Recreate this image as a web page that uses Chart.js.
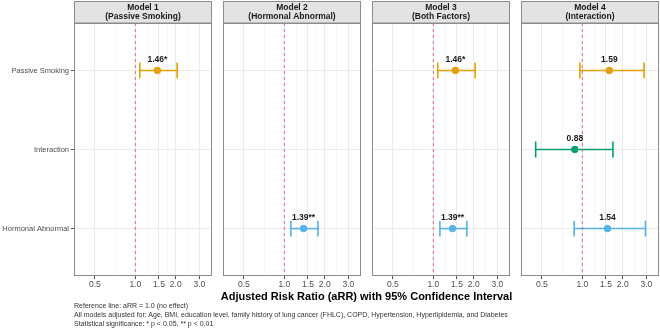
<!DOCTYPE html>
<html>
<head>
<meta charset="utf-8">
<script src="https://cdn.jsdelivr.net/npm/chart.js@4/dist/chart.umd.min.js"></script>
<style>
  body { margin: 0; background: #fff; font-family: "Liberation Sans", Arial, sans-serif; }
  #wrap { position: relative; width: 660px; height: 332px; overflow: hidden; }
  canvas { position: absolute; top: 0; }
  .xtitle { position: absolute; top: 290px; left: 74px; width: 585px; text-align: center;
            font-weight: bold; font-size: 11px; color: #000; }
  .caption { position: absolute; top: 301px; left: 74px; font-size: 7px; line-height: 9px; color: #333; }
</style>
</head>
<body>
<div id="wrap">
  <canvas id="p0" width="212" height="292" style="left:0px"></canvas>
  <canvas id="p1" width="138" height="292" style="left:223px"></canvas>
  <canvas id="p2" width="138" height="292" style="left:372px"></canvas>
  <canvas id="p3" width="138" height="292" style="left:521px"></canvas>
  <div class="xtitle">Adjusted Risk Ratio (aRR) with 95% Confidence Interval</div>
  <div class="caption">Reference line: aRR = 1.0 (no effect)<br>All models adjusted for: Age, BMI, education level, family history of lung cancer (FHLC), COPD, Hypertension, Hyperlipidemia, and Diabetes<br>Statistical significance: * p &lt; 0.05, ** p &lt; 0.01</div>
</div>
<script>
// data
const panelTitles = ['Model 1', 'Model 2', 'Model 3', 'Model 4'];
const panelSubtitles = ['(Passive Smoking)', '(Hormonal Abnormal)', '(Both Factors)', '(Interaction)'];
const categories = ['Passive Smoking', 'Interaction', 'Hormonal Abnormal'];
const catColors = ['#E69F00', '#009E73', '#56B4E9'];

// rows: model, columns: category (null = not in model)
const estimates = [[1.46, null, null], [null, null, 1.39], [1.46, null, 1.39], [1.59, 0.88, 1.54]];
const lowerCI   = [[1.08, null, null], [null, null, 1.12], [1.08, null, 1.12], [0.96, 0.45, 0.87]];
const upperCI   = [[2.05, null, null], [null, null, 1.78], [2.05, null, 1.78], [2.88, 1.69, 2.95]];
const estLabels = [['1.46*', null, null], [null, null, '1.39**'], ['1.46*', null, '1.39**'], ['1.59', '0.88', '1.54']];

const xTicks = [0.5, 1.0, 1.5, 2.0, 3.0];
const xMinor = [0.707, 1.225, 1.732, 2.449];
const refLine = 1.0;

const FONT = '"Liberation Sans", Arial, sans-serif';

const panelPlugin = {
    id: 'panelDeco',
    beforeDraw(chart) {
        const ctx = chart.ctx, a = chart.chartArea;
        const i = chart.options.plugins.panelDeco.index;
        ctx.save();
        ctx.fillStyle = '#e3e3e3';
        ctx.fillRect(a.left, 1, a.right - a.left, a.top - 1);
        ctx.strokeStyle = '#8c8c8c';
        ctx.lineWidth = 1;
        ctx.strokeRect(a.left + 0.5, 1.5, a.right - a.left - 1, a.top - 1.5);
        ctx.fillStyle = '#1a1a1a';
        ctx.font = 'bold 8.5px ' + FONT;
        ctx.textAlign = 'center';
        ctx.textBaseline = 'middle';
        const cx = (a.left + a.right) / 2;
        ctx.fillText(panelTitles[i], cx, 8);
        ctx.fillText(panelSubtitles[i], cx, 17);
        ctx.restore();
    },
    afterDraw(chart) {
        const ctx = chart.ctx, a = chart.chartArea;
        const i = chart.options.plugins.panelDeco.index;
        ctx.save();
        ctx.strokeStyle = '#8c8c8c';
        ctx.lineWidth = 1;
        ctx.strokeRect(a.left + 0.5, a.top + 0.5, a.right - a.left - 1, a.bottom - a.top - 1);
        // estimate labels above points
        ctx.fillStyle = '#1a1a1a';
        ctx.font = 'bold 8.5px ' + FONT;
        ctx.textAlign = 'center';
        ctx.textBaseline = 'middle';
        const xs = chart.scales.x, ys = chart.scales.y;
        for (let c = 0; c < categories.length; c++) {
            if (estLabels[i][c] === null) continue;
            ctx.fillText(estLabels[i][c], xs.getPixelForValue(estimates[i][c]), ys.getPixelForValue(c + 1) - 11);
        }
        ctx.restore();
    }
};

function makePanel(i) {
    const datasets = [];
    // reference line
    datasets.push({
        type: 'line',
        data: [{x: refLine, y: 0.4}, {x: refLine, y: 3.6}],
        borderColor: 'rgba(232, 70, 95, 0.8)',
        borderWidth: 1,
        borderDash: [3, 3],
        pointRadius: 0
    });
    for (let c = 0; c < categories.length; c++) {
        if (estimates[i][c] === null) continue;
        const y = c + 1, lo = lowerCI[i][c], hi = upperCI[i][c], col = catColors[c];
        const seg = (pts) => ({
            type: 'line', data: pts, borderColor: col, borderWidth: 1.6, pointRadius: 0
        });
        datasets.push(seg([{x: lo, y: y}, {x: hi, y: y}]));
        datasets.push(seg([{x: lo, y: y - 0.1}, {x: lo, y: y + 0.1}]));
        datasets.push(seg([{x: hi, y: y - 0.1}, {x: hi, y: y + 0.1}]));
        datasets.push({
            type: 'scatter', data: [{x: estimates[i][c], y: y}],
            backgroundColor: col, borderColor: col, pointRadius: 3.3
        });
    }

    const first = i === 0;
    new Chart(document.getElementById('p' + i), {
        type: 'scatter',
        data: { datasets },
        plugins: [panelPlugin],
        options: {
            responsive: false,
            animation: false,
            devicePixelRatio: 1,
            layout: { autoPadding: false, padding: { top: 23, left: 0, right: 0, bottom: 0 } },
            plugins: {
                legend: { display: false },
                tooltip: { enabled: false },
                panelDeco: { index: i }
            },
            scales: {
                x: {
                    type: 'logarithmic',
                    min: 0.35,
                    max: 3.72,
                    afterBuildTicks: (s) => { s.ticks = xTicks.concat(xMinor).map(v => ({ value: v })); },
                    afterFit: (s) => { s.height = 16; s.paddingLeft = 0; s.paddingRight = 0; },
                    ticks: {
                        autoSkip: false,
                        maxRotation: 0,
                        padding: 1,
                        color: '#4d4d4d',
                        font: { size: 8.5, family: FONT },
                        callback: (v) => xTicks.includes(v) ? v.toFixed(1) : ''
                    },
                    grid: {
                        color: (c) => xTicks.includes(c.tick.value) ? '#ebebeb' : '#f6f6f6',
                        tickColor: (c) => xTicks.includes(c.tick.value) ? '#555' : 'rgba(0,0,0,0)',
                        tickLength: 3
                    },
                    border: { display: false }
                },
                y: {
                    type: 'linear',
                    reverse: true,
                    min: 0.4,
                    max: 3.6,
                    afterBuildTicks: (s) => { s.ticks = [1, 2, 3].map(v => ({ value: v })); },
                    afterFit: (s) => { s.width = first ? 74 : 0; s.paddingTop = 0; s.paddingBottom = 0; },
                    ticks: {
                        display: first,
                        padding: 2,
                        color: '#4d4d4d',
                        font: { size: 7.5, family: FONT },
                        callback: (v) => categories[v - 1]
                    },
                    grid: {
                        color: '#ebebeb',
                        drawTicks: first,
                        tickColor: '#555',
                        tickLength: 3
                    },
                    border: { display: false }
                }
            }
        }
    });
}

for (let i = 0; i < 4; i++) makePanel(i);
</script>
</body>
</html>
